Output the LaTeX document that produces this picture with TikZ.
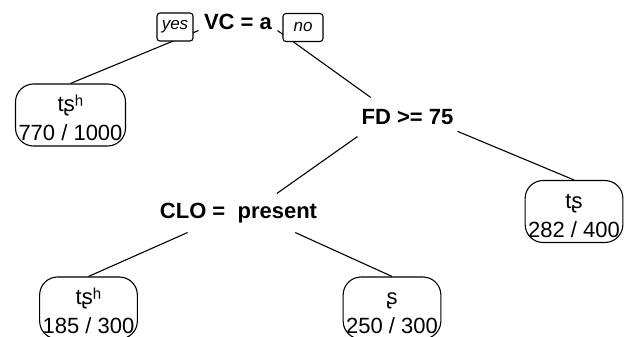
\documentclass[tikz,border=0pt]{standalone}
\usepackage{fontspec}
\setmainfont{Liberation Sans}
\begin{document}
\begin{tikzpicture}[x=1pt, y=-1pt, line width=1.1pt,
  leaf/.style={draw, rounded corners=18pt, align=center, inner xsep=3pt, inner ysep=0pt,
    minimum height=62pt, text height=51pt, text depth=0pt, font=\fontsize{22}{29}\selectfont},
  split/.style={inner sep=0pt, minimum height=38pt, font=\fontsize{22}{26}\selectfont\bfseries},
  answer/.style={draw, fill=white, rounded corners=3pt, inner sep=0pt, minimum height=28pt,
    font=\fontsize{17}{20}\selectfont\itshape}]
\clip (0,0) rectangle (624,337);
% splits
\node [split, minimum height=16pt, minimum width=78pt] (vc) at (238,22) {VC = a};
\node [split, minimum width=99pt] (fd) at (407.5,117) {FD >= 75};
\node [split] (clo) at (238.5,213) {CLO =\ \ present};
% leaves
\node [leaf] (tshA) at (70.5,115) {tʂʰ\\770 / 1000};
\node [leaf] (ts) at (574,211.5) {tʂ\\282 / 400};
\node [leaf] (tshB) at (88.5,308) {tʂʰ\\185 / 300};
\node [leaf] (sr) at (392,308) {ʂ\\250 / 300};
% branches
\draw (vc.south west) -- (tshA.north);
\draw (vc.south east) -- (fd.152);
\draw (fd.south west) -- (clo.27);
\draw (fd.344) -- (ts.north);
\draw (clo.201) -- (tshB.north);
\draw (clo.341) -- (sr.north);
% yes / no
\node [answer, minimum width=36pt] (yes) at (175,27) {yes};
\node [answer, minimum width=40pt] (no) at (303,27.5) {no};
\end{tikzpicture}
\end{document}
